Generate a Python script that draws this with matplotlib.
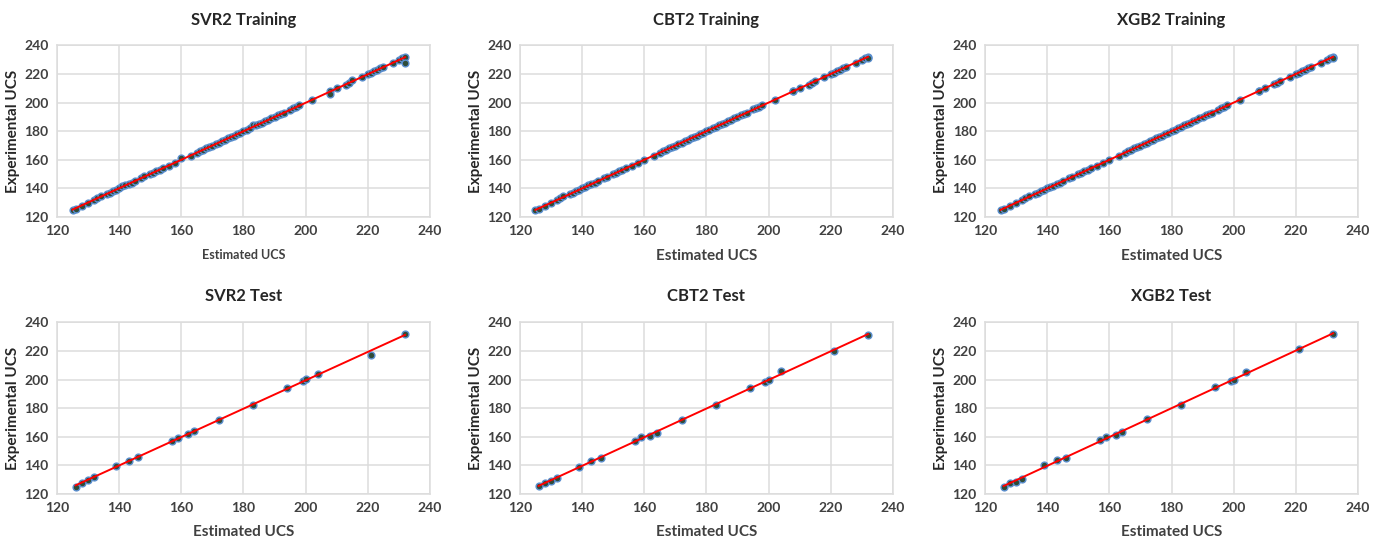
import matplotlib.pyplot as plt
import numpy as np

# ---- data (Estimated UCS vs Experimental UCS) ----
train_x = [125, 126, 128, 130, 132, 133, 134, 136, 137, 138, 139, 140, 141, 142,
           143, 144, 145, 147, 148, 150, 151, 152, 153, 154, 156, 158, 160, 163,
           165, 166, 167, 168, 169, 170, 171, 172, 173, 174, 175, 176, 177, 178,
           179, 180, 181, 182, 183, 184, 185, 186, 187, 188, 189, 190, 191, 192,
           193, 195, 196, 197, 198, 202, 208, 208, 210, 213, 214, 215, 218, 220,
           221, 222, 223, 224, 225, 228, 230, 231, 232, 232]

svr_train_y = [125, 125.5, 128, 130, 132, 133, 135, 136, 137, 138, 139, 140, 141.5, 142.5,
               143, 144, 145, 147, 148.5, 150, 151, 152, 153, 154.5, 155.5, 158, 161, 163,
               165, 166, 167, 168, 169, 170, 171, 171.5, 173, 174, 175, 176, 177, 178,
               179, 180, 181, 182, 184, 184.5, 185, 186, 187, 188, 189, 190, 191, 192,
               193, 195, 196, 197, 198, 202, 208, 206, 210, 212, 214, 216, 218, 220,
               221, 222, 223, 224, 225, 228, 230, 231, 232, 228]

cbt_train_y = [125, 125.5, 127.5, 130, 132, 133, 134.5, 136, 137, 138, 139, 140, 141, 142.5,
               143, 144, 145, 147, 148, 150, 151, 152, 153, 154, 156, 158, 160, 163,
               165, 166, 167, 168, 169, 170, 171, 172, 173, 174, 175, 176, 177, 178,
               179, 180, 181, 182, 183, 184, 185, 186, 187, 188, 189, 190, 191, 192,
               193, 195.5, 196, 197, 198, 202, 208, 208, 210, 212.5, 214, 215, 218, 220,
               221, 222, 223, 224, 225, 228, 230, 231, 232, 231.5]

xgb_train_y = [125, 125.5, 128, 130, 132, 133, 134.5, 136, 137, 138, 139, 140, 141, 142,
               143, 144, 145, 147, 148, 150, 151, 152, 153, 154, 156, 158, 160, 163,
               165, 166, 167, 168, 169, 170, 171, 172, 173, 174, 175, 176, 177, 178,
               179, 180, 181, 182, 183, 184, 185, 186, 187, 188, 189, 190, 191, 192,
               193, 195, 196, 197, 198, 202, 208, 208, 210, 213, 214, 215, 218, 220,
               221, 222, 223, 224, 225, 228, 230, 231, 232, 231.5]

test_x = [126, 128, 130, 132, 139, 143, 146, 157, 159, 162, 164, 172, 183, 194,
          199, 200, 204, 221, 232]

svr_test_y = [125, 128, 129.5, 132, 139.5, 143, 146, 157, 159, 162, 164, 172, 182, 194,
              199, 200.5, 204, 217, 232]
cbt_test_y = [125.5, 128, 129, 131.5, 139, 143, 145.5, 157, 160, 160.5, 162.5, 172, 182.5, 194,
              198.5, 199.5, 206, 220, 231]
xgb_test_y = [125, 128, 128.5, 130.5, 140, 143.5, 145.5, 158, 159.5, 161, 163, 172.5, 182.5, 194.5,
              199, 200, 205, 221, 231.5]

titles = ["SVR2 Training", "CBT2 Training", "XGB2 Training",
          "SVR2 Test", "CBT2 Test", "XGB2 Test"]
series = [(train_x, svr_train_y), (train_x, cbt_train_y), (train_x, xgb_train_y),
          (test_x, svr_test_y), (test_x, cbt_test_y), (test_x, xgb_test_y)]
ticks = [120, 140, 160, 180, 200, 220, 240]

plt.rcParams['font.family'] = ['Lato', 'DejaVu Sans']

fig = plt.figure(figsize=[13.81, 5.40], dpi=100)
lefts = [0.0413, 0.3765, 0.7133]
bottoms = [0.598, 0.0852]
W, H = 0.270, 0.318

for i, (title, (x, y)) in enumerate(zip(titles, series)):
    row, col = divmod(i, 3)
    ax = fig.add_axes([lefts[col], bottoms[row], W, H])
    ax.set_xlim(120, 240)
    ax.set_ylim(120, 240)
    ax.set_xticks(ticks)
    ax.set_yticks(ticks)
    ax.grid(True, color='#dcdcdc', linewidth=1.1)
    ax.set_axisbelow(True)
    for s in ax.spines.values():
        s.set_color('#dcdcdc')
        s.set_linewidth(1.1)
    ax.tick_params(length=0, labelsize=10, colors='#404040', pad=6)
    for lab in ax.get_xticklabels() + ax.get_yticklabels():
        lab.set_fontweight('bold')

    ax.scatter(x, y, s=24, c='#304c38', edgecolors='#5b8fd0', linewidths=1.0, zorder=3)
    # linear trendline over the data range
    k, b = np.polyfit(x, y, 1)
    xs = np.array([min(x), max(x)])
    ax.plot(xs, k * xs + b, color='#ff0000', linewidth=1.4, zorder=4)

    ax.set_title(title, fontsize=12, fontweight='bold', color='#262626', pad=15)
    xl_size = 9 if i == 0 else 11
    ax.set_xlabel('Estimated UCS', fontsize=xl_size, fontweight='bold', color='#404040', labelpad=8)
    ax.set_ylabel('Experimental UCS', fontsize=11, fontweight='bold', color='#262626', labelpad=3)

plt.savefig('out.png', dpi=100)
plt.close(fig)
